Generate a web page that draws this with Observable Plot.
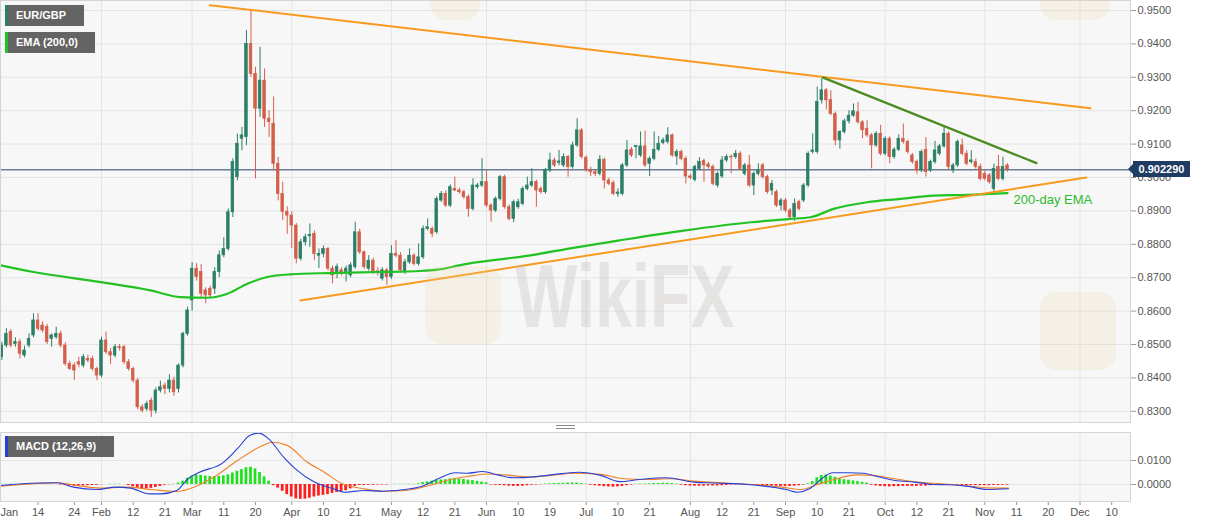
<!DOCTYPE html>
<html><head><meta charset="utf-8">
<script src="https://cdn.jsdelivr.net/npm/d3@7"></script>
<script src="https://cdn.jsdelivr.net/npm/@observablehq/plot@0.6"></script>
<style>
body{margin:0;background:#fff;font-family:"Liberation Sans",Arial,Helvetica,sans-serif;}
#wrap{position:relative;width:1207px;height:526px;overflow:hidden;background:#fff;}
#wrap svg{position:absolute;left:0;display:block;}
.leg{position:absolute;left:5px;height:21px;line-height:21px;background:rgba(88,88,88,0.93);color:#fff;font-weight:bold;font-size:11px;padding-left:8px;box-sizing:border-box;white-space:nowrap;}
.wm{position:absolute;font-weight:bold;color:rgba(190,184,178,0.30);pointer-events:none;white-space:nowrap;font-size:66px;transform-origin:left top;transform:scaleY(1.35);}
.logo{position:absolute;border-radius:16px;background:rgba(240,214,160,0.20);pointer-events:none;}
</style></head>
<body><div id="wrap"></div>
<script>
// ---------- DATA ----------
// daily candles [open, high, low, close], one array per month, weekdays from 1 Jan 2020
const jan = [
[.8452,.8478,.8448,.8462],[.8462,.8507,.8452,.8497],[.8497,.8547,.8490,.8532],[.8537,.8545,.8490,.8497],
[.8502,.8520,.8492,.8507],[.8507,.8515,.8457,.8472],[.8467,.8495,.8460,.8482],[.8497,.8532,.8490,.8517],
[.8527,.8592,.8520,.8572],[.8572,.8592,.8540,.8547],[.8557,.8568,.8535,.8542],[.8552,.8560,.8500,.8507],
[.8517,.8532,.8492,.8527],[.8522,.8552,.8515,.8532],[.8532,.8540,.8490,.8497],[.8497,.8505,.8435,.8442],
[.8442,.8450,.8422,.8427],[.8437,.8445,.8392,.8422],[.8447,.8462,.8430,.8440],[.8437,.8470,.8430,.8462],
[.8457,.8468,.8445,.8452],[.8457,.8465,.8420,.8427],[.8427,.8432,.8392,.8407]];
const feb = [
[.8407,.8522,.8400,.8512],[.8512,.8537,.8470,.8477],[.8477,.8488,.8440,.8467],[.8467,.8500,.8460,.8492],
[.8492,.8500,.8480,.8489],[.8492,.8497,.8440,.8447],[.8447,.8455,.8420,.8427],[.8427,.8432,.8385,.8392],
[.8392,.8398,.8305,.8312],[.8312,.8320,.8295,.8302],[.8307,.8330,.8300,.8322],[.8332,.8340,.8282,.8302],
[.8302,.8370,.8292,.8362],[.8362,.8390,.8355,.8372],[.8377,.8385,.8350,.8367],[.8367,.8410,.8355,.8392],
[.8392,.8402,.8345,.8357],[.8367,.8442,.8355,.8437],[.8437,.8537,.8430,.8532],[.8532,.8612,.8525,.8602]];
const mar = [
[.8632,.8745,.8600,.8727],[.8727,.8742,.8690,.8702],[.8717,.8740,.8640,.8652],[.8662,.8670,.8622,.8647],
[.8667,.8675,.8640,.8647],[.8667,.8730,.8650,.8717],[.8717,.8780,.8700,.8767],[.8767,.8820,.8760,.8786],
[.8786,.8906,.8780,.8896],[.8896,.9056,.8880,.9046],[.9001,.9130,.8990,.9101],[.9116,.9150,.9080,.9126],
[.9121,.9440,.9095,.9400],[.9400,.9500,.9300,.9310],[.9310,.9330,.8996,.9206],[.9206,.9390,.9180,.9290],
[.9290,.9325,.9150,.9176],[.9176,.9200,.9120,.9166],[.9161,.9241,.9020,.9041],[.9041,.9060,.8930,.8951],
[.8951,.8986,.8872,.8897],[.8897,.8912,.8830,.8886]];
const apr = [
[.8886,.8897,.8787,.8856],[.8856,.8862,.8742,.8757],[.8757,.8815,.8750,.8806],[.8806,.8830,.8795,.8821],
[.8824,.8861,.8791,.8828],[.8831,.8840,.8751,.8771],[.8766,.8786,.8727,.8771],[.8771,.8795,.8760,.8786],
[.8786,.8790,.8720,.8727],[.8727,.8735,.8682,.8707],[.8717,.8741,.8697,.8732],[.8722,.8730,.8705,.8712],
[.8717,.8735,.8687,.8727],[.8707,.8745,.8700,.8737],[.8732,.8866,.8725,.8836],[.8836,.8845,.8770,.8776],
[.8776,.8780,.8725,.8732],[.8727,.8766,.8720,.8751],[.8751,.8758,.8710,.8717],[.8719,.8730,.8705,.8715],
[.8697,.8730,.8690,.8722],[.8722,.8728,.8677,.8702]];
const may = [
[.8702,.8796,.8695,.8771],[.8771,.8811,.8760,.8766],[.8766,.8775,.8715,.8722],[.8717,.8755,.8710,.8746],
[.8746,.8786,.8740,.8766],[.8766,.8772,.8735,.8741],[.8741,.8801,.8735,.8761],[.8761,.8855,.8755,.8846],
[.8846,.8876,.8840,.8851],[.8846,.8852,.8820,.8831],[.8836,.8942,.8830,.8936],[.8931,.8958,.8925,.8951],
[.8951,.8960,.8910,.8916],[.8916,.8978,.8910,.8971],[.8966,.9001,.8958,.8961],[.8961,.8968,.8950,.8956],
[.8956,.8962,.8935,.8941],[.8941,.8948,.8881,.8906],[.8906,.8996,.8900,.8976],[.8971,.8982,.8965,.8976],
[.8976,.9056,.8970,.8986]];
const jun = [
[.8986,.9021,.8910,.8916],[.8916,.8922,.8866,.8901],[.8901,.8942,.8895,.8936],[.8936,.9006,.8930,.9001],
[.9001,.9007,.8905,.8911],[.8911,.8918,.8870,.8876],[.8876,.8932,.8865,.8926],[.8911,.8935,.8905,.8926],
[.8921,.8972,.8915,.8966],[.8966,.9001,.8960,.8976],[.8976,.9026,.8970,.8986],[.8986,.8992,.8911,.8961],
[.8966,.8972,.8950,.8956],[.8956,.9027,.8950,.9021],[.9021,.9073,.9015,.9051],[.9051,.9058,.9030,.9036],
[.9044,.9081,.9035,.9048],[.9036,.9071,.9030,.9061],[.9061,.9066,.9001,.9031],[.9031,.9106,.9025,.9096],
[.9096,.9176,.9090,.9141],[.9141,.9146,.9055,.9061]];
const jul = [
[.9059,.9065,.9016,.9021],[.9021,.9031,.9003,.9016],[.9016,.9022,.9003,.9011],[.9011,.9066,.9005,.9053],
[.9053,.9058,.8966,.8991],[.8991,.8998,.8975,.8981],[.8983,.8990,.8946,.8951],[.8951,.8966,.8941,.8955],
[.8951,.9042,.8945,.9036],[.9036,.9111,.9030,.9081],[.9083,.9090,.9060,.9066],[.9091,.9096,.9056,.9094],
[.9066,.9136,.9060,.9093],[.9093,.9139,.9030,.9036],[.9041,.9062,.9003,.9056],[.9056,.9136,.9050,.9083],
[.9083,.9123,.9078,.9101],[.9103,.9118,.9098,.9111],[.9106,.9149,.9100,.9126],[.9126,.9131,.9060,.9066],
[.9063,.9083,.9036,.9076],[.9076,.9082,.9050,.9056],[.9056,.9062,.8981,.9003]];
const aug = [
[.9003,.9010,.8993,.8999],[.8993,.9037,.8987,.9031],[.9026,.9059,.9020,.9046],[.9049,.9055,.8986,.9036],
[.9039,.9045,.9025,.9031],[.9031,.9037,.8975,.8981],[.8976,.9017,.8969,.9011],[.9003,.9063,.8997,.9051],
[.9051,.9068,.9045,.9061],[.9062,.9068,.9011,.9060],[.9061,.9081,.9055,.9071],[.9071,.9077,.9020,.9026],
[.9011,.9042,.9005,.9036],[.9036,.9066,.8970,.8976],[.8976,.9017,.8946,.9011],[.9011,.9041,.9005,.9021],
[.9036,.9042,.8995,.9001],[.9001,.9007,.8950,.8956],[.8961,.8991,.8946,.8981],[.8956,.8962,.8910,.8916],
[.8916,.8937,.8900,.8931]];
const sep = [
[.8931,.8937,.8895,.8901],[.8901,.8907,.8875,.8881],[.8881,.8936,.8869,.8921],[.8926,.8932,.8900,.8906],
[.8931,.8982,.8925,.8976],[.8976,.9077,.8970,.9071],[.9076,.9131,.9070,.9081],[.9076,.9271,.9070,.9226],
[.9231,.9296,.9220,.9261],[.9261,.9266,.9203,.9231],[.9232,.9260,.9185,.9190],[.9190,.9196,.9095,.9111],
[.9111,.9140,.9085,.9136],[.9136,.9175,.9130,.9168],[.9168,.9200,.9160,.9185],[.9185,.9220,.9180,.9198],
[.9195,.9225,.9160,.9165],[.9165,.9170,.9116,.9141],[.9146,.9170,.9120,.9126],[.9126,.9132,.9026,.9096],
[.9096,.9137,.9090,.9131],[.9131,.9156,.9065,.9071]];
const oct = [
[.9071,.9122,.9065,.9116],[.9116,.9122,.9041,.9061],[.9061,.9089,.9055,.9083],[.9083,.9128,.9078,.9116],
[.9116,.9160,.9100,.9106],[.9106,.9112,.9070,.9076],[.9066,.9072,.9040,.9046],[.9046,.9052,.9010,.9021],
[.9021,.9082,.9015,.9076],[.9083,.9120,.9001,.9016],[.9021,.9052,.9015,.9046],[.9046,.9108,.9040,.9081],
[.9071,.9099,.9065,.9093],[.9093,.9151,.9088,.9131],[.9131,.9137,.9021,.9031],[.9021,.9042,.9012,.9036],
[.9036,.9112,.9030,.9106],[.9096,.9115,.9065,.9071],[.9071,.9080,.9035,.9041],[.9046,.9080,.9040,.9051],
[.9046,.9055,.9025,.9031],[.9031,.9040,.8990,.8996]];
const nov = [
[.9011,.9020,.8990,.8996],[.9006,.9012,.8980,.8986],[.8966,.9040,.8946,.9026],[.9031,.9066,.8990,.8996],
[.8996,.9061,.8990,.9031],[.9036,.9041,.9016,.9023]];

const lastPrice = 0.90229;

// EMA(200): [candle index, value]
const ema = [[0.7,.8737],[8,.8717],[22.8,.8687],[33.8,.8662],[40.4,.8642],[46.4,.8640],[50.8,.8652],
[55.2,.8682],[59.6,.8702],[64.7,.8710],[73.5,.8714],[84.6,.8717],[93.4,.8720],[97.2,.8724],[103,.8740],
[110.4,.8754],[117.7,.8767],[126.5,.8788],[137,.8811],[151.5,.8841],[166.3,.8866],[175,.8876],
[179.5,.8881],[184.6,.8906],[192,.8926],[199.4,.8936],[206.7,.8946],[214.2,.8948],[223,.8953]];

// drawn trend lines: [candle index, price]
const upperTrend = [[46.9,.95159],[241.3,.92075]];
const lowerTrend = [[66.9,.86317],[240.4,.9000]];
const greenTrend = [[182.3,.9299],[229.4,.9043]];

// MACD (12,26,9)
const macdLine = [[0.7,-0.0004],[9.1,0.0006],[13.3,0.0007],[16.8,-0.0011],[21.9,-0.0021],[26.1,-0.0011],
[29.4,-0.0015],[33.6,-0.0039],[36.2,-0.0039],[39.6,-0.0025],[42.1,0.0024],[44.6,0.0051],[49.7,0.0089],
[53,0.0149],[55.7,0.0204],[57.7,0.0214],[59.9,0.0190],[63.2,0.0114],[65.8,0.0065],[70,0.0010],
[74.2,-0.0018],[76.6,-0.0032],[81,-0.0025],[85.2,-0.0028],[89.4,-0.0022],[93.6,-0.0008],[97.8,0.0028],
[101.1,0.0049],[103.8,0.0047],[107.1,0.0054],[110.5,0.0040],[114,0.0028],[119,0.0033],[122.3,0.0040],
[128.3,0.0051],[133.2,0.0038],[137.4,0.0012],[141.8,0.0021],[147.7,0.0028],[153.7,0.0010],[158.8,0.0006],
[165.6,0.0000],[169.8,-0.0008],[174.2,-0.0021],[176.6,-0.0032],[179.3,-0.0018],[182,0.0024],[184.4,0.0049],
[187.9,0.0049],[191.2,0.0047],[194.7,0.0031],[198.1,0.0017],[202.5,0.0010],[206.7,0.0000],[210,-0.0001],
[214.4,-0.0008],[218.6,-0.0021],[223.2,-0.0018]];
const signalLine = [[0.7,-0.0007],[9.1,0.0004],[13.3,0.0007],[17.5,-0.0004],[22.7,-0.0015],[28.5,-0.0011],
[34.5,-0.0022],[39.6,-0.0029],[43.8,-0.0008],[48,0.0033],[53,0.0100],[58.1,0.0158],[60.7,0.0176],
[64,0.0163],[68.3,0.0095],[72.4,0.0049],[75.8,0.0006],[81,-0.0018],[85.2,-0.0028],[90.3,-0.0025],
[95.4,-0.0004],[99.6,0.0019],[103.8,0.0033],[108,0.0044],[112.2,0.0040],[117.3,0.0031],[122.3,0.0038],
[127.4,0.0047],[133.2,0.0042],[138.2,0.0024],[143.3,0.0021],[148.6,0.0024],[153.7,0.0014],[160.5,0.0006],
[167.4,-0.0001],[173.3,-0.0011],[177.5,-0.0021],[181,0.0000],[185.3,0.0024],[189.6,0.0040],[193,0.0038],
[198.1,0.0024],[203.1,0.0010],[208.4,0.0003],[213.5,-0.0004],[218.6,-0.0014],[223.2,-0.0015]];
// histogram, one bar per candle, in units of 0.0001
const histogram = [1,1,1,1,0,0,1,2,2,2,2,2,1,0,-2,-4,-6,-7,-7,-6,-5,-4,-3,-1,0,1,1,1,0,-4,
-9,-14,-17,-18,-16,-12,-8,-3,-1,1,6,14,26,35,40,38,35,33,33,34,36,40,48,55,62,70,72,65,50,32,
14,-5,-15,-28,-42,-52,-60,-62,-61,-57,-52,-48,-45,-42,-37,-33,-30,-26,-18,-8,-4,-4,-3,-3,-2,-2,-2,0,1,1,
1,1,1,3,8,11,14,17,19,20,23,24,23,21,18,16,13,10,7,-2,-3,-4,-5,-7,-8,-8,-7,-5,-3,-2,
-1,2,3,4,4,5,6,6,6,4,1,-3,-5,-7,-9,-10,-11,-10,-8,-5,-2,1,2,2,3,4,4,5,5,4,
2,-3,-5,-6,-7,-7,-7,-6,-6,-6,-5,-4,-2,-1,0,-1,-3,-4,-5,-5,-6,-7,-7,-8,-8,-8,-7,-5,-2,3,
12,28,38,40,35,30,24,20,18,15,12,9,6,-3,-6,-8,-9,-10,-9,-9,-8,-8,-8,-8,-7,-7,-5,-4,-3,-3,
-3,-4,-4,-4,-4,-4,-5,-5,-5,-5,-4,-4,-3,-3];

// axes
const priceTicks = [0.83,0.84,0.85,0.86,0.87,0.88,0.89,0.90,0.91,0.92,0.93,0.94,0.95];
const macdTicks = [0, 0.01];
const tickIdx = [0,9,17,23,30,37,43,50,57,65,72,79,87,94,101,108,115,122,130,137,144,153,160,167,174,181,188,196,203,210,218,225,232,239,246];
const tickLabels = ["Jan","14","24","Feb","12","21","Mar","11","20","Apr","10","21","May","12","21","Jun","10","19","Jul","10","21","Aug","12","21","Sep","10","21","Oct","12","21","Nov","11","20","Dec","10"];
const monthStarts = [23,43,65,87,108,130,153,174,196,218,239];

// ---------- CHART ----------
const FONT = '"Liberation Sans", Arial, Helvetica, sans-serif';
const UP = "#2b7f67", DOWN = "#d35f4b";
const ORANGE = "#f79a1e", EMAG = "#22c222", DKGREEN = "#4a8c1f";
const BG = "#f7f7f7", GRID = "#e4e4e4", BORDER = "#d4d4d4";
const xDomain = [0.706, 250.15];

const candles = [...jan,...feb,...mar,...apr,...may,...jun,...jul,...aug,...sep,...oct,...nov]
  .map((d, i) => ({i, o: d[0], h: d[1], l: d[2], c: d[3], col: d[3] >= d[0] ? UP : DOWN}));
const pts = a => a.map(([i, v]) => ({i, v}));
const histData = histogram.map((v, i) => ({i, v: v / 10000, col: v >= 0 ? "#1fe01f" : "#ff1c1c"}));
const labelOf = new Map(tickIdx.map((t, k) => [t, tickLabels[k]]));
const fmt4 = d3.format(".4f");

const main = Plot.plot({
  width: 1207, height: 423,
  marginLeft: 0, marginRight: 77, marginTop: 0, marginBottom: 1,
  x: {domain: xDomain, axis: null, label: null},
  y: {domain: [0.82665, 0.95299], axis: null, label: null},
  style: {fontFamily: FONT, fontSize: "11px", background: "transparent", overflow: "visible"},
  marks: [
    Plot.frame({fill: BG}),
    Plot.gridX(monthStarts, {stroke: GRID, strokeOpacity: 1}),
    Plot.gridY(priceTicks, {stroke: GRID, strokeOpacity: 1}),
    Plot.axisY(priceTicks, {anchor: "right", label: null, tickFormat: fmt4, tickSize: 5, tickPadding: 2, fill: "#555", stroke: "#999", fontSize: 11}),
    Plot.ruleY([lastPrice], {stroke: "#23406a", strokeWidth: 1}),
    Plot.ruleX(candles, {x: "i", y1: "l", y2: "h", stroke: "col", strokeWidth: 1}),
    Plot.rect(candles, {x1: d => d.i - 0.29, x2: d => d.i + 0.29, y1: "o", y2: "c", fill: "col", stroke: "col", strokeWidth: 0.7}),
    Plot.line(pts(ema), {x: "i", y: "v", stroke: EMAG, strokeWidth: 2.2, curve: "monotone-x"}),
    Plot.line(pts(upperTrend), {x: "i", y: "v", stroke: ORANGE, strokeWidth: 2}),
    Plot.line(pts(lowerTrend), {x: "i", y: "v", stroke: ORANGE, strokeWidth: 2}),
    Plot.line(pts(greenTrend), {x: "i", y: "v", stroke: DKGREEN, strokeWidth: 2.2}),
    Plot.text(pts(ema.slice(-1)), {x: "i", y: "v", text: () => "200-day EMA", dx: 6, dy: 7, textAnchor: "start", fill: "#2dbb2d", fontSize: 13}),
    Plot.frame({stroke: BORDER})
  ]
});

const macd = Plot.plot({
  width: 1207, height: 103,
  marginLeft: 0, marginRight: 77, marginTop: 9, marginBottom: 25,
  x: {domain: xDomain, axis: null, label: null},
  y: {domain: [-0.0070833, 0.0216667], axis: null, label: null},
  style: {fontFamily: FONT, fontSize: "11px", background: "transparent", overflow: "visible"},
  marks: [
    Plot.frame({fill: BG}),
    Plot.gridX(monthStarts, {stroke: GRID, strokeOpacity: 1}),
    Plot.gridY(macdTicks, {stroke: GRID, strokeOpacity: 1}),
    Plot.axisY(macdTicks, {anchor: "right", label: null, tickFormat: fmt4, tickSize: 5, tickPadding: 2, fill: "#555", stroke: "#999", fontSize: 11}),
    Plot.axisX(tickIdx.slice(1), {anchor: "bottom", label: null, tickFormat: d => labelOf.get(d), tickSize: 4, tickPadding: 3, fill: "#555", stroke: "#999", fontSize: 11}),
    Plot.text([{i: xDomain[0], t: tickLabels[0]}], {x: "i", text: "t", frameAnchor: "bottom", lineAnchor: "top", dy: 7, textAnchor: "start", fill: "#555", fontSize: 11}),
    Plot.rect(histData, {x1: d => d.i - 0.3, x2: d => d.i + 0.3, y1: () => 0, y2: "v", fill: "col"}),
    Plot.line(pts(signalLine), {x: "i", y: "v", stroke: "#f0802a", strokeWidth: 1.1, curve: "monotone-x"}),
    Plot.line(pts(macdLine), {x: "i", y: "v", stroke: "#2741d6", strokeWidth: 1.1, curve: "monotone-x"}),
    Plot.frame({stroke: BORDER})
  ]
});

const wrap = document.getElementById("wrap");
main.style.top = "0px";
macd.style.top = "423px";
wrap.appendChild(main);
wrap.appendChild(macd);

function add(html) { wrap.insertAdjacentHTML("beforeend", html); }

// watermark
add('<div class="logo" style="left:425px;top:266px;width:76px;height:78px"></div>');
add('<div class="logo" style="left:1040px;top:292px;width:76px;height:78px"></div>');
add('<div class="logo" style="left:430px;top:-40px;width:50px;height:60px"></div>');
add('<div class="logo" style="left:1040px;top:-40px;width:70px;height:60px"></div>');
add('<div class="wm" style="left:515px;top:245px">WikiFX</div>');

// legends
add('<div class="leg" style="top:5px;width:79px;border-left:3px solid ' + UP + '">EUR/GBP</div>');
add('<div class="leg" style="top:32px;width:90px;border-left:3px solid ' + EMAG + '">EMA (200,0)</div>');
add('<div class="leg" style="top:436px;width:109px;border-left:3px solid #2741d6">MACD (12,26,9)</div>');

// pane handle
add('<div style="position:absolute;left:556px;top:425px;width:19px;height:2px;border-top:1px solid #8a8a8a;border-bottom:1px solid #8a8a8a"></div>');

// last price label on the axis
const ys = main.scale("y");
const py = ys.apply ? ys.apply(lastPrice) : d3.scaleLinear(ys.domain, ys.range)(lastPrice);
add('<div style="position:absolute;left:1128px;top:' + (py - 5) + 'px;width:0;height:0;border-top:5px solid transparent;border-bottom:5px solid transparent;border-right:5px solid #1f3c63"></div>');
add('<div style="position:absolute;left:1133px;top:' + (py - 8) + 'px;width:57px;height:16px;line-height:16px;background:#1f3c63;color:#fff;font-weight:bold;font-size:11px;text-align:center">' + lastPrice.toFixed(6) + '</div>');
</script>
</body></html>
